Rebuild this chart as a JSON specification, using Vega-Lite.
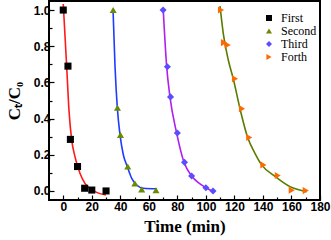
{
  "$schema": "https://vega.github.io/schema/vega-lite/v6.json",
  "width": 271,
  "height": 199,
  "autosize": "none",
  "padding": {"left": 49, "top": 1, "right": 11, "bottom": 40},
  "background": "white",
  "config": {
    "view": {"stroke": "black", "strokeWidth": 2},
    "axis": {
      "domain": false,
      "grid": false,
      "labelFont": "Liberation Sans",
      "labelFontWeight": "bold",
      "labelFontSize": 12,
      "labelColor": "black",
      "tickColor": "black",
      "tickWidth": 1.2,
      "titleFont": "Liberation Serif",
      "titleFontWeight": "bold",
      "titleFontSize": 17,
      "titleColor": "black"
    },
    "legend": {
      "title": null,
      "orient": "none",
      "legendX": 214,
      "legendY": 11,
      "padding": 0,
      "labelFont": "Liberation Serif",
      "labelFontSize": 12,
      "labelColor": "black",
      "labelOffset": 6,
      "rowPadding": 1,
      "symbolSize": 36,
      "symbolStrokeWidth": 0
    }
  },
  "datasets": {
    "pts": [
      {"t": 0, "c": 1.0, "run": "First"},
      {"t": 3.3, "c": 0.69, "run": "First"},
      {"t": 5, "c": 0.285, "run": "First"},
      {"t": 10, "c": 0.135, "run": "First"},
      {"t": 15, "c": 0.015, "run": "First"},
      {"t": 20, "c": 0.005, "run": "First"},
      {"t": 30, "c": 0.0, "run": "First"},
      {"t": 35, "c": 1.0, "run": "Second"},
      {"t": 38, "c": 0.46, "run": "Second"},
      {"t": 40.1, "c": 0.31, "run": "Second"},
      {"t": 45.2, "c": 0.135, "run": "Second"},
      {"t": 50.2, "c": 0.041, "run": "Second"},
      {"t": 55, "c": 0.009, "run": "Second"},
      {"t": 65, "c": 0.004, "run": "Second"},
      {"t": 70, "c": 1.0, "run": "Third"},
      {"t": 73, "c": 0.687, "run": "Third"},
      {"t": 75.2, "c": 0.52, "run": "Third"},
      {"t": 80, "c": 0.32, "run": "Third"},
      {"t": 85, "c": 0.158, "run": "Third"},
      {"t": 90, "c": 0.083, "run": "Third"},
      {"t": 100, "c": 0.018, "run": "Third"},
      {"t": 105, "c": 0.0, "run": "Third"},
      {"t": 110.6, "c": 1.0, "run": "Forth"},
      {"t": 112.7, "c": 0.82, "run": "Forth"},
      {"t": 115.3, "c": 0.807, "run": "Forth"},
      {"t": 120.4, "c": 0.62, "run": "Forth"},
      {"t": 125.3, "c": 0.455, "run": "Forth"},
      {"t": 130.4, "c": 0.295, "run": "Forth"},
      {"t": 140.3, "c": 0.144, "run": "Forth"},
      {"t": 150.4, "c": 0.085, "run": "Forth"},
      {"t": 160.2, "c": 0.004, "run": "Forth"},
      {"t": 170, "c": 0.002, "run": "Forth"}
    ],
    "fits": [
      {"t": 0, "c": 1.033, "fit": "F1"},
      {"t": 2.4, "c": 0.687, "fit": "F1"},
      {"t": 4.0, "c": 0.447, "fit": "F1"},
      {"t": 5.9, "c": 0.282, "fit": "F1"},
      {"t": 8.2, "c": 0.19, "fit": "F1"},
      {"t": 11.7, "c": 0.098, "fit": "F1"},
      {"t": 15.2, "c": 0.042, "fit": "F1"},
      {"t": 21.0, "c": 0.002, "fit": "F1"},
      {"t": 29.9, "c": -0.022, "fit": "F1"},
      {"t": 34.9, "c": 1.0, "fit": "F2"},
      {"t": 36.3, "c": 0.687, "fit": "F2"},
      {"t": 37.9, "c": 0.46, "fit": "F2"},
      {"t": 39.8, "c": 0.31, "fit": "F2"},
      {"t": 42.1, "c": 0.2, "fit": "F2"},
      {"t": 44.9, "c": 0.135, "fit": "F2"},
      {"t": 48.0, "c": 0.07, "fit": "F2"},
      {"t": 51.5, "c": 0.033, "fit": "F2"},
      {"t": 56.1, "c": 0.015, "fit": "F2"},
      {"t": 65.5, "c": 0.012, "fit": "F2"},
      {"t": 70.1, "c": 1.0, "fit": "F3"},
      {"t": 72.5, "c": 0.687, "fit": "F3"},
      {"t": 74.8, "c": 0.52, "fit": "F3"},
      {"t": 79.5, "c": 0.32, "fit": "F3"},
      {"t": 84.6, "c": 0.16, "fit": "F3"},
      {"t": 90, "c": 0.083, "fit": "F3"},
      {"t": 94.7, "c": 0.046, "fit": "F3"},
      {"t": 100.1, "c": 0.018, "fit": "F3"},
      {"t": 105.2, "c": -0.003, "fit": "F3"},
      {"t": 109.9, "c": 1.022, "fit": "F4"},
      {"t": 112.2, "c": 0.87, "fit": "F4"},
      {"t": 115.7, "c": 0.724, "fit": "F4"},
      {"t": 119.2, "c": 0.62, "fit": "F4"},
      {"t": 123.9, "c": 0.455, "fit": "F4"},
      {"t": 129.3, "c": 0.295, "fit": "F4"},
      {"t": 134.4, "c": 0.208, "fit": "F4"},
      {"t": 139.1, "c": 0.144, "fit": "F4"},
      {"t": 147.8, "c": 0.085, "fit": "F4"},
      {"t": 159, "c": 0.024, "fit": "F4"},
      {"t": 170.7, "c": -0.004, "fit": "F4"}
    ]
  },
  "encoding": {
    "x": {
      "field": "t", "type": "quantitative",
      "scale": {"domain": [-10, 180], "nice": false, "zero": false},
      "axis": {
        "title": "Time (min)",
        "values": [0,10,20,30,40,50,60,70,80,90,100,110,120,130,140,150,160,170,180],
        "labelExpr": "datum.value % 20 === 0 ? datum.label : ''",
        "tickSize": {"condition": {"test": "datum.value % 20 === 0", "value": -5}, "value": -3},
        "labelPadding": 6,
        "titlePadding": 4,
        "labelFlush": false,
        "labelOverlap": false
      }
    },
    "y": {
      "field": "c", "type": "quantitative",
      "scale": {"domain": [-0.05, 1.05], "nice": false, "zero": false},
      "axis": {
        "title": "Cₜ/C₀",
        "values": [0,0.1,0.2,0.3,0.4,0.5,0.6,0.7,0.8,0.9,1.0],
        "format": ".1f",
        "labelExpr": "round(datum.value*10) % 2 === 0 ? datum.label : ''",
        "tickSize": {"condition": {"test": "round(datum.value*10) % 2 === 0", "value": -5}, "value": -3},
        "labelPadding": 4,
        "titlePadding": 10,
        "labelFlush": false,
        "labelOverlap": false
      }
    }
  },
  "layer": [
    {
      "data": {"name": "fits"},
      "mark": {"type": "line", "interpolate": "monotone", "strokeWidth": 1.6, "clip": true},
      "encoding": {
        "detail": {"field": "fit"},
        "color": {
          "field": "fit", "type": "nominal", "legend": null,
          "scale": {"domain": ["F1", "F2", "F3", "F4"], "range": ["#ff1a1a", "#1e3cff", "#b01ef0", "#5a7d00"]}
        }
      }
    },
    {
      "data": {"name": "pts"},
      "mark": {"type": "point", "filled": true, "opacity": 1, "size": 50},
      "encoding": {
        "shape": {
          "field": "run", "type": "nominal",
          "scale": {"domain": ["First", "Second", "Third", "Forth"], "range": ["square", "triangle-up", "diamond", "triangle-right"]}
        },
        "fill": {
          "field": "run", "type": "nominal",
          "scale": {"domain": ["First", "Second", "Third", "Forth"], "range": ["#000000", "#6a8a00", "#5b4dff", "#ff6a00"]}
        }
      }
    }
  ],
  "resolve": {"scale": {"color": "independent"}}
}
